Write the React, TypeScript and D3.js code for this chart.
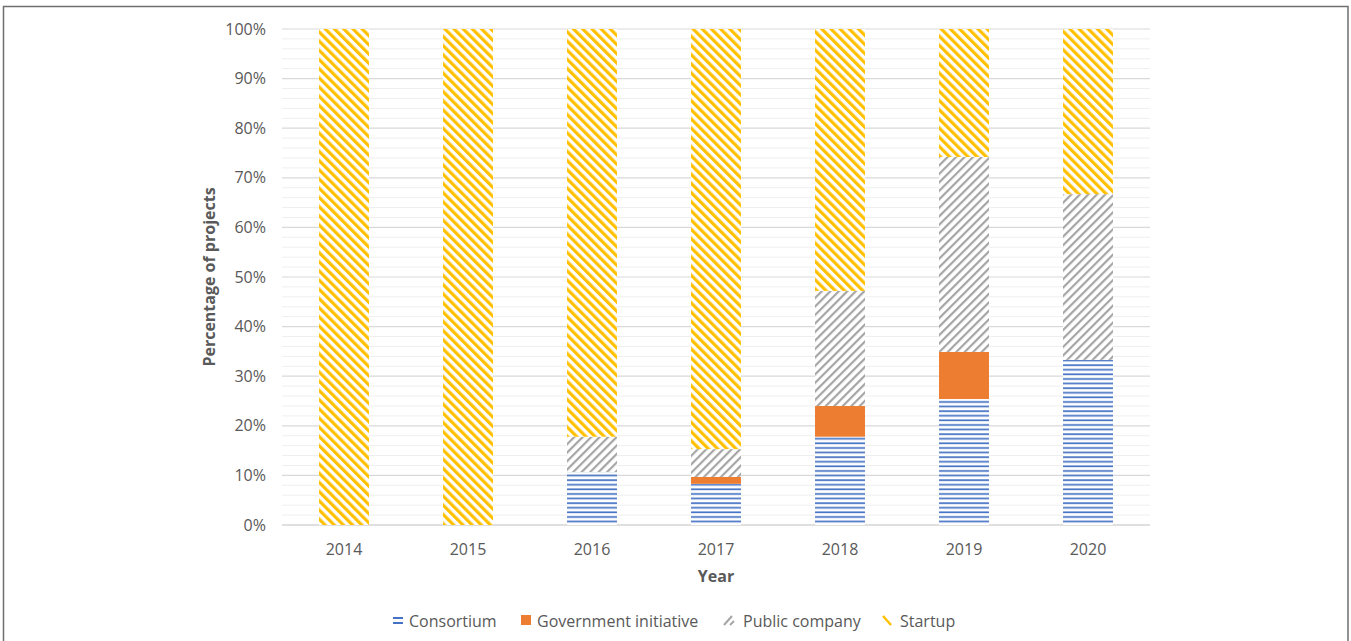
import React from "react";
import * as d3 from "d3";

const years = ["2014", "2015", "2016", "2017", "2018", "2019", "2020"];
const consortium = [0, 0, 10.7, 8.3, 17.8, 25.4, 33.3];
const government = [0, 0, 0, 1.4, 6.2, 9.5, 0];
const publicCompany = [0, 0, 7.1, 5.6, 23.2, 39.3, 33.4];
const startup = [100, 100, 82.2, 84.7, 52.8, 25.8, 33.3];
const seriesNames = ["Consortium", "Government initiative", "Public company", "Startup"];
const yTicks = [0, 10, 20, 30, 40, 50, 60, 70, 80, 90, 100];

const W = 1351;
const H = 641;
const margin = { left: 282, right: 201, top: 29, bottom: 116 };

export default function App() {
  const x = d3.scaleBand().domain(years).range([margin.left, W - margin.right]).paddingInner(0.597).paddingOuter(0.2985);
  const y = d3.scaleLinear().domain([0, 100]).range([H - margin.bottom, margin.top]);
  const data = years.map((yr, i) => ({
    year: yr,
    Consortium: consortium[i],
    "Government initiative": government[i],
    "Public company": publicCompany[i],
    Startup: startup[i],
  }));
  const stack = d3.stack<any>().keys(seriesNames)(data);
  const fills: Record<string, string> = {
    Consortium: "url(#pCons)",
    "Government initiative": "#ED7D31",
    "Public company": "url(#pPub)",
    Startup: "url(#pStart)",
  };
  const minor = d3.range(0, 101, 2).filter((v) => v % 10 !== 0);
  const font = "'Open Sans', 'Noto Sans', sans-serif";
  const fs = 16;
  const legendItems = [
    { name: "Consortium", x: 393, tx: 409 },
    { name: "Government initiative", x: 521, tx: 537 },
    { name: "Public company", x: 724, tx: 743 },
    { name: "Startup", x: 882, tx: 900 },
  ];
  return (
    <svg width={W} height={H} style={{ position: "absolute", left: 0, top: 0 }} fontFamily={font}>
      <defs>
        <pattern id="pCons" patternUnits="userSpaceOnUse" width={8} height={4.6} y={y(0)}>
          <rect width={8} height={4.6} fill="#ffffff" />
          <rect y={0.3} width={8} height={1.7} fill="#4472C4" />
        </pattern>
        <pattern id="pPub" patternUnits="userSpaceOnUse" width={6} height={6} patternTransform="rotate(45)">
          <rect width={6} height={6} fill="#ffffff" />
          <rect x={0} width={2.2} height={6} fill="#A5A5A5" />
        </pattern>
        <pattern id="pStart" patternUnits="userSpaceOnUse" width={6.5} height={6.5} patternTransform="rotate(-45)">
          <rect width={6.5} height={6.5} fill="#ffffff" />
          <rect x={0} width={3.2} height={6.5} fill="#FFC000" />
        </pattern>
      </defs>
      <rect x={3.5} y={6.5} width={1344.5} height={H} fill="#fff" stroke="#6f6f6f" strokeWidth={1.5} />
      {minor.map((v) => (
        <line key={"m" + v} x1={margin.left} x2={W - margin.right} y1={y(v)} y2={y(v)} stroke="#efefef" strokeWidth={1} />
      ))}
      {yTicks.map((v) => (
        <line key={"g" + v} x1={margin.left} x2={W - margin.right} y1={y(v)} y2={y(v)} stroke={v === 0 ? "#bfbfbf" : "#d9d9d9"} strokeWidth={1.2} />
      ))}
      {yTicks.map((v) => (
        <text key={"t" + v} x={266} y={y(v)} dy="0.35em" textAnchor="end" fontSize={fs} fill="#595959">
          {v}%
        </text>
      ))}
      {stack.map((s) =>
        s.map((d, i) =>
          d[1] - d[0] > 0 ? (
            <rect
              key={s.key + i}
              x={x(years[i])!}
              width={x.bandwidth()}
              y={y(d[1])}
              height={y(d[0]) - y(d[1])}
              fill={fills[s.key]}
            />
          ) : null
        )
      )}
      {years.map((yr) => (
        <text key={yr} x={x(yr)! + x.bandwidth() / 2} y={549} dy="0.35em" textAnchor="middle" fontSize={fs} fill="#595959">
          {yr}
        </text>
      ))}
      <text x={(margin.left + W - margin.right) / 2} y={576} dy="0.35em" textAnchor="middle" fontSize={fs} fontWeight="bold" fill="#595959">
        Year
      </text>
      <text transform={`translate(209,${(y(0) + y(100)) / 2}) rotate(-90)`} dy="0.35em" textAnchor="middle" fontSize={fs} fontWeight="bold" fill="#595959">
        Percentage of projects
      </text>
      {legendItems.map((it) => (
        <g key={it.name}>
          {it.name === "Consortium" && (
            <g>
              <rect x={it.x} y={617} width={10} height={2} fill="#4472C4" />
              <rect x={it.x} y={622} width={10} height={2} fill="#4472C4" />
            </g>
          )}
          {it.name === "Government initiative" && <rect x={it.x} y={615} width={10} height={10} fill="#ED7D31" />}
          {it.name === "Public company" && (
            <g>
              <line x1={it.x} y1={625} x2={it.x + 8} y2={616} stroke="#A5A5A5" strokeWidth={2} />
              <line x1={it.x + 6} y1={625} x2={it.x + 10} y2={621} stroke="#A5A5A5" strokeWidth={2} />
            </g>
          )}
          {it.name === "Startup" && (
            <line x1={it.x + 1} y1={616} x2={it.x + 9} y2={625} stroke="#FFC000" strokeWidth={2.5} />
          )}
          <text x={it.tx} y={621} dy="0.35em" fontSize={fs} fill="#595959">
            {it.name}
          </text>
        </g>
      ))}
    </svg>
  );
}
